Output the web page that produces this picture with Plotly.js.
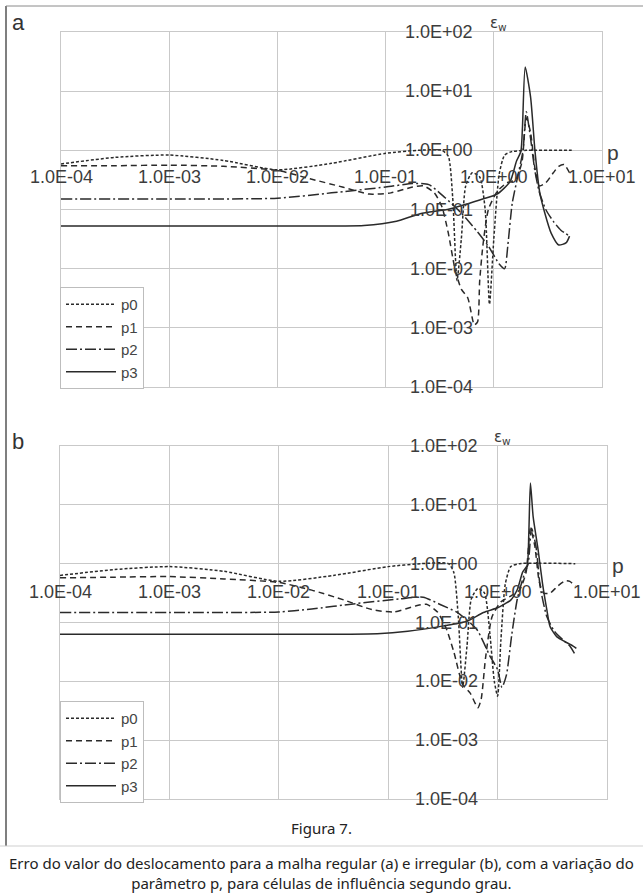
<!DOCTYPE html>
<html>
<head>
<meta charset="utf-8">
<script src="https://cdn.plot.ly/plotly-3.0.1.min.js"></script>
<style>
html,body{margin:0;padding:0;background:#fff;}
#chart{width:643px;height:896px;}
</style>
</head>
<body>
<div id="chart"></div>
<script>
// ---------- tick labels ----------
const xTickVals = [1e-4, 1e-3, 1e-2, 1e-1, 1, 10];
const xTickText = ['1.0E-04', '1.0E-03', '1.0E-02', '1.0E-01', '1.0E+00', '1.0E+01'];
const yTickVals = [1e2, 1e1, 1, 1e-1, 1e-2, 1e-3, 1e-4];
const yTickText = ['1.0E+02', '1.0E+01', '1.0E+00', '1.0E-01', '1.0E-02', '1.0E-03', '1.0E-04'];
const seriesNames = ['p0', 'p1', 'p2', 'p3'];

// ---------- panel (a): regular mesh ----------
const a_p0_x = [1e-4, 3.16e-4, 1e-3, 3.16e-3, 0.01, 0.0316, 0.1, 0.2, 0.331, 0.380, 0.417, 0.457, 0.501, 0.550, 0.631, 0.741, 0.832, 0.912, 1.0, 1.122, 1.259, 1.479, 2.0, 5.25];
const a_p0_y = [0.589, 0.76, 0.832, 0.676, 0.468, 0.603, 0.891, 1.0, 1.0, 0.794, 0.158, 0.0063, 0.0316, 0.251, 0.417, 0.355, 0.1, 0.0025, 0.0316, 0.398, 0.832, 0.955, 1.0, 1.0];

const a_p1_x = [1e-4, 3.16e-4, 1e-3, 3.16e-3, 0.01, 0.02, 0.0398, 0.0708, 0.112, 0.178, 0.224, 0.282, 0.331, 0.380, 0.437, 0.501, 0.575, 0.661, 0.708, 0.741, 0.794, 0.891, 1.072, 1.318, 1.585, 1.820, 1.995, 2.188, 2.399, 2.630, 3.020, 3.548, 3.981, 4.467, 5.012];
const a_p1_y = [0.55, 0.55, 0.562, 0.537, 0.457, 0.331, 0.24, 0.182, 0.191, 0.24, 0.251, 0.191, 0.112, 0.0398, 0.01, 0.0045, 0.0032, 0.00112, 0.00126, 0.0063, 0.0251, 0.1, 0.2, 0.282, 0.316, 0.631, 3.55, 2.0, 0.5, 0.251, 0.282, 0.417, 0.537, 0.575, 0.417];

const a_p2_x = [1e-4, 1e-3, 0.01, 0.0316, 0.1, 0.178, 0.251, 0.355, 0.501, 0.708, 0.891, 1.122, 1.259, 1.349, 1.479, 1.660, 1.862, 1.995, 2.188, 2.399, 2.630, 3.020, 3.548, 4.169, 5.012];
const a_p2_y = [0.151, 0.151, 0.155, 0.191, 0.24, 0.275, 0.263, 0.158, 0.0871, 0.0417, 0.024, 0.012, 0.01, 0.0251, 0.126, 0.355, 1.0, 4.47, 1.585, 0.447, 0.2, 0.1, 0.0631, 0.0447, 0.0355];

const a_p3_x = [1e-4, 1e-3, 0.01, 0.0631, 0.126, 0.209, 0.389, 0.741, 1.072, 1.413, 1.622, 1.778, 1.841, 1.950, 2.188, 2.399, 2.661, 2.951, 3.388, 3.981, 4.677, 5.012];
const a_p3_y = [0.0525, 0.0525, 0.0525, 0.0537, 0.0631, 0.0851, 0.102, 0.145, 0.182, 0.295, 0.661, 0.955, 2.51, 25.7, 7.94, 1.0, 0.191, 0.0891, 0.0398, 0.0251, 0.0275, 0.0355];

// ---------- panel (b): irregular mesh ----------
const b_p0_x = [1e-4, 3.16e-4, 1e-3, 3.16e-3, 0.01, 0.0316, 0.1, 0.2, 0.355, 0.398, 0.437, 0.479, 0.525, 0.575, 0.661, 0.759, 0.851, 0.933, 1.0, 1.072, 1.175, 1.318, 1.585, 5.129];
const b_p0_y = [0.631, 0.794, 0.891, 0.741, 0.501, 0.631, 0.891, 1.0, 1.0, 0.708, 0.126, 0.0079, 0.0398, 0.251, 0.38, 0.316, 0.0631, 0.01, 0.0056, 0.0501, 0.447, 0.891, 1.0, 1.0];

const b_p1_x = [1e-4, 3.16e-4, 1e-3, 3.16e-3, 0.01, 0.02, 0.0398, 0.0708, 0.112, 0.178, 0.224, 0.282, 0.339, 0.398, 0.479, 0.562, 0.661, 0.708, 0.776, 0.891, 1.072, 1.318, 1.585, 1.820, 1.995, 2.188, 2.399, 2.630, 3.020, 3.548, 4.169, 4.571, 5.129];
const b_p1_y = [0.575, 0.589, 0.603, 0.55, 0.479, 0.355, 0.24, 0.166, 0.151, 0.191, 0.204, 0.151, 0.0794, 0.0316, 0.0089, 0.0063, 0.00355, 0.005, 0.0251, 0.126, 0.224, 0.282, 0.355, 0.708, 3.98, 2.0, 0.501, 0.316, 0.316, 0.417, 0.513, 0.501, 0.417];

const b_p2_x = [1e-4, 1e-3, 0.01, 0.02, 0.0501, 0.126, 0.209, 0.302, 0.427, 0.646, 0.851, 1.0, 1.096, 1.202, 1.349, 1.514, 1.738, 1.905, 2.042, 2.239, 2.455, 2.818, 3.311, 3.981, 4.571, 5.129];
const b_p2_y = [0.148, 0.148, 0.151, 0.17, 0.209, 0.251, 0.269, 0.2, 0.148, 0.0759, 0.0269, 0.0158, 0.0079, 0.0126, 0.0631, 0.251, 0.631, 1.0, 3.98, 2.0, 0.398, 0.126, 0.0708, 0.0501, 0.0398, 0.0282];

const b_p3_x = [1e-4, 1e-3, 0.01, 0.0794, 0.151, 0.295, 0.525, 0.741, 1.0, 1.175, 1.318, 1.514, 1.698, 1.862, 1.928, 1.995, 2.113, 2.344, 2.570, 2.818, 3.020, 3.467, 4.266, 4.898, 5.248];
const b_p3_y = [0.0631, 0.0631, 0.0631, 0.0646, 0.0708, 0.0851, 0.105, 0.148, 0.178, 0.209, 0.24, 0.363, 0.724, 0.933, 3.16, 23.4, 6.31, 1.74, 0.468, 0.166, 0.0851, 0.0575, 0.0457, 0.0398, 0.0363];

// ---------- styles ----------
const W = 643, H = 896;
const lineColor = '#2a2a2a';
const dashes = ['3px,2px', '6px,4px', '11px,3px,2px,3px', 'solid'];
const gridColor = '#c9c9c9';
const labelFont = {family: 'Liberation Sans, Arial, sans-serif', size: 18, color: '#3c3c3c'};

const panelA = {xs: [a_p0_x, a_p1_x, a_p2_x, a_p3_x], ys: [a_p0_y, a_p1_y, a_p2_y, a_p3_y], xa: 'x', ya: 'y', legend: 'legend'};
const panelB = {xs: [b_p0_x, b_p1_x, b_p2_x, b_p3_x], ys: [b_p0_y, b_p1_y, b_p2_y, b_p3_y], xa: 'x2', ya: 'y2', legend: 'legend2'};

const traces = [];
[panelA, panelB].forEach(pn => {
  for (let i = 0; i < 4; i++) {
    traces.push({
      type: 'scatter', mode: 'lines', name: seriesNames[i],
      x: pn.xs[i], y: pn.ys[i], xaxis: pn.xa, yaxis: pn.ya,
      legend: pn.legend,
      line: {color: lineColor, width: 1.5, dash: dashes[i], shape: 'spline', smoothing: 0.6},
      hoverinfo: 'skip'
    });
  }
});

function py(p) { return 1 - p / H; }
function px(p) { return p / W; }

function axisX(domain, anchor) {
  return {type: 'log', range: [-4, 1], domain: domain, anchor: anchor,
    showgrid: true, gridcolor: gridColor, gridwidth: 1, dtick: 1,
    showticklabels: false, ticks: '', zeroline: false,
    showline: true, mirror: true, linecolor: gridColor, linewidth: 1, fixedrange: true};
}
function axisY(domain, anchor) {
  return {type: 'log', range: [-4, 2], domain: domain, anchor: anchor,
    showgrid: true, gridcolor: gridColor, gridwidth: 1, dtick: 1,
    showticklabels: false, ticks: '', zeroline: false,
    showline: true, mirror: true, linecolor: gridColor, linewidth: 1, fixedrange: true};
}

const annotations = [];
const shapes = [];
const panels = [
  {xa: 'x', ya: 'y', xShiftLbl: -27, yShiftLbl: -19, letter: 'a', letterY: 8},
  {xa: 'x2', ya: 'y2', xShiftLbl: -28, yShiftLbl: -18, letter: 'b', letterY: 427}
];
panels.forEach(pn => {
  xTickVals.forEach((v, i) => {
    annotations.push({xref: pn.xa, yref: pn.ya, x: Math.log10(v), y: 0, text: xTickText[i],
      showarrow: false, xanchor: 'center', yanchor: 'middle', yshift: pn.xShiftLbl, font: labelFont});
  });
  yTickVals.forEach((v, i) => {
    annotations.push({xref: pn.xa, yref: pn.ya, x: 0, y: Math.log10(v), text: yTickText[i],
      showarrow: false, xanchor: 'right', yanchor: 'middle', xshift: pn.yShiftLbl, font: labelFont});
  });
  annotations.push({xref: pn.xa, yref: pn.ya, x: 0, y: 2, text: 'ε<sub>w</sub>', showarrow: false,
    xanchor: 'left', yanchor: 'bottom', xshift: -6, yshift: -3,
    font: {family: 'DejaVu Sans, sans-serif', size: 15, color: '#3c3c3c'}});
  annotations.push({xref: pn.xa, yref: pn.ya, x: 1, y: 0, text: 'p', showarrow: false,
    xanchor: 'left', yanchor: 'middle', xshift: 3, yshift: -2,
    font: {family: 'Liberation Sans, Arial, sans-serif', size: 21, color: '#3c3c3c'}});
  annotations.push({xref: 'paper', yref: 'paper', x: px(10), y: py(pn.letterY), text: pn.letter,
    showarrow: false, xanchor: 'left', yanchor: 'top',
    font: {family: 'Liberation Sans, Arial, sans-serif', size: 22, color: '#333'}});
  // axes through p = 1 and eps = 1
  shapes.push({type: 'line', xref: pn.xa, yref: pn.ya, x0: 0, x1: 0, y0: -4, y1: 2, layer: 'below',
    line: {color: '#a9a9a9', width: 1}});
  shapes.push({type: 'line', xref: pn.xa, yref: pn.ya, x0: -4, x1: 1, y0: 0, y1: 0, layer: 'below',
    line: {color: '#a9a9a9', width: 1}});
});

// caption
const capFont = {family: 'Noto Sans, sans-serif', size: 15, color: '#222'};
annotations.push({xref: 'paper', yref: 'paper', x: 0.5, y: py(828), text: 'Figura 7.', showarrow: false,
  xanchor: 'center', yanchor: 'middle', font: capFont});
annotations.push({xref: 'paper', yref: 'paper', x: 0.5, y: py(873), showarrow: false,
  text: 'Erro do valor do deslocamento para a malha regular (a) e irregular (b), com a variação do<br>parâmetro p, para células de influência segundo grau.',
  xanchor: 'center', yanchor: 'middle', align: 'center', font: capFont});

// frame
shapes.push({type: 'line', xref: 'paper', yref: 'paper', x0: px(6), x1: px(6), y0: py(6), y1: py(846),
  line: {color: '#555', width: 1.5}});
shapes.push({type: 'line', xref: 'paper', yref: 'paper', x0: px(6), x1: 1, y0: py(6), y1: py(6),
  line: {color: '#8a8a8a', width: 1}});
shapes.push({type: 'line', xref: 'paper', yref: 'paper', x0: 0, x1: 1, y0: py(846), y1: py(846),
  line: {color: '#cfcfcf', width: 1}});

const legendStyle = (topPx) => ({
  x: px(60), y: py(topPx), xanchor: 'left', yanchor: 'top',
  bgcolor: 'rgba(255,255,255,1)', bordercolor: '#bdbdbd', borderwidth: 1,
  font: {family: 'Liberation Sans, Arial, sans-serif', size: 15, color: '#444'},
  itemwidth: 50,
  tracegroupgap: 0, itemclick: false, itemdoubleclick: false
});

const layout = {
  width: W, height: H,
  margin: {l: 0, r: 0, t: 0, b: 0},
  paper_bgcolor: '#fff', plot_bgcolor: '#fff',
  showlegend: true,
  legend: legendStyle(287),
  legend2: legendStyle(701),
  xaxis: axisX([px(61), px(602)], 'y'),
  yaxis: axisY([py(387), py(32)], 'x'),
  xaxis2: axisX([px(60), px(607)], 'y2'),
  yaxis2: axisY([py(799), py(446)], 'x2'),
  annotations: annotations,
  shapes: shapes
};

Plotly.newPlot('chart', traces, layout, {displayModeBar: false, staticPlot: true});
</script>
</body>
</html>
